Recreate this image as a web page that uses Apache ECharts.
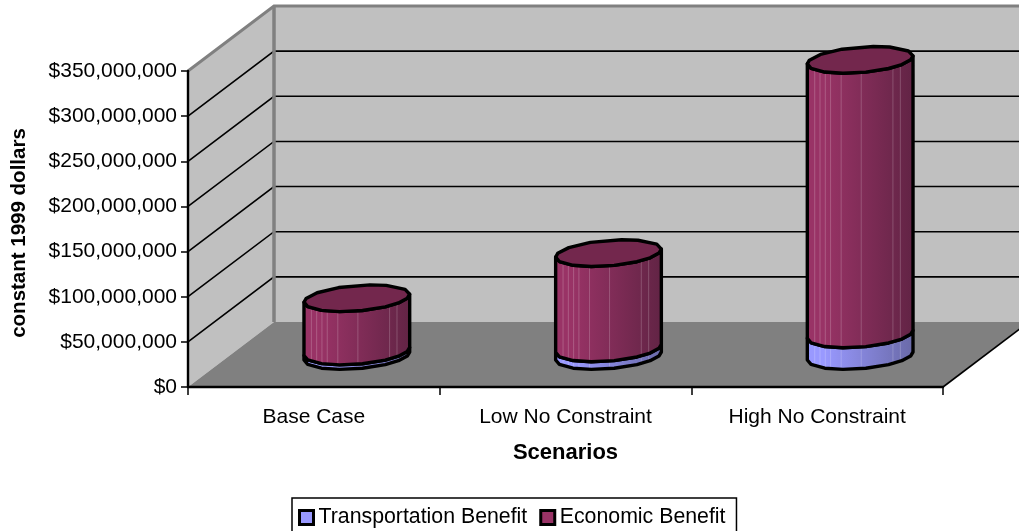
<!DOCTYPE html>
<html>
<head>
<meta charset="utf-8">
<title>Scenario benefits</title>
<style>
  html, body { margin: 0; padding: 0; background: #fff; overflow: hidden; }
  #chart { width: 1019px; height: 531px; }
</style>
<script src="https://cdn.jsdelivr.net/npm/echarts@6/dist/echarts.min.js"></script>
</head>
<body>
<div id="chart"></div>
<script>
// Benefit per scenario, constant 1999 dollars
const categories = ['Base Case', 'Low No Constraint', 'High No Constraint'];
const transportationBenefit = [5000000, 8500000, 24000000];
const economicBenefit = [59000000, 105500000, 304000000];
const gridValues = [50000000, 100000000, 150000000, 200000000, 250000000, 300000000, 350000000];
const axisMax = 350000000;
const axisStep = 50000000;

// Oblique projection of the 3D box
const DEPTH_X = 86, DEPTH_Y = -65;
const COL_DX = 43, COL_DY = -31;
const COL_WIDTH = 0.42, ELL_A = 12.8, ELL_B = 4;

const FONT = '"Liberation Sans", Arial, sans-serif';
const LABEL_SIZE = 21;

// Facet seams on the curved side, as fractions of the column width
const seams = [0.12, 0.19, 0.49, 0.68, 0.78, 0.83, 0.88, 0.93];
// Angles of the faceted outline, deliberately uneven
const facetAngles = [0, 0.42, 0.98, 1.32, 1.92, 2.42, 2.86, 3.14159,
                     3.52, 3.98, 4.38, 4.82, 5.28, 5.62, 5.98];

const shades = {
  transportation: { left: '#9999ff', right: '#6a6aa8', top: '#7373bf' },
  economic: { left: '#993366', right: '#622445', top: '#73274d' }
};

function gradient(s) {
  return {
    type: 'linear', x: 0, y: 0, x2: 1, y2: 0,
    colorStops: [
      { offset: 0, color: s.left },
      { offset: 0.15, color: s.left },
      { offset: 1, color: s.right }
    ]
  };
}

function ringPoint(c, rx, t) {
  return [c[0] + rx * Math.cos(t), c[1] - (ELL_A * Math.sin(t) + ELL_B * Math.cos(t))];
}

function frontArc(c, rx) {
  const pts = facetAngles.filter(t => t >= Math.PI - 1e-3).map(t => ringPoint(c, rx, t));
  pts.push(ringPoint(c, rx, Math.PI * 2));
  return pts;
}

function renderColumn(shade, withTop) {
  return function (params, api) {
    const cat = api.value(0);
    const low = api.coord([cat, api.value(1)]);
    const high = api.coord([cat, api.value(2)]);
    const rx = api.size([1, 0])[0] * COL_WIDTH / 2;
    const cLow = [low[0] + COL_DX, low[1] + COL_DY];
    const cHigh = [high[0] + COL_DX, high[1] + COL_DY];
    const outline = frontArc(cLow, rx).concat(frontArc(cHigh, rx).reverse());
    const children = [{
      type: 'polygon', shape: { points: outline },
      style: { fill: gradient(shade), stroke: null }
    }];
    seams.forEach(f => {
      const t = Math.PI * 2 - Math.acos(1 - 2 * f);
      const a = ringPoint(cLow, rx, t), b = ringPoint(cHigh, rx, t);
      children.push({
        type: 'line', shape: { x1: a[0], y1: a[1], x2: b[0], y2: b[1] },
        style: { stroke: 'rgba(255,255,255,0.2)', lineWidth: 1 }
      });
    });
    children.push({
      type: 'polygon', shape: { points: outline },
      style: { fill: null, stroke: '#000', lineWidth: 3.4, lineJoin: 'round' }
    });
    if (withTop) {
      children.push({
        type: 'polygon',
        shape: { points: facetAngles.map(t => ringPoint(cHigh, rx, t)) },
        style: { fill: shade.top, stroke: '#000', lineWidth: 3.4, lineJoin: 'round' }
      });
    }
    return { type: 'group', children };
  };
}

// Side wall, back wall, floor and gridlines of the 3D box
function renderBox(params, api) {
  const o = api.coord([0, 0]);
  const band = api.size([1, 0])[0];
  const x0 = o[0] - band / 2;
  const x1 = x0 + band * categories.length;
  const y0 = o[1];
  const yTop = api.coord([0, axisMax])[1];
  const kids = [];
  kids.push({ type: 'rect',
    shape: { x: x0 + DEPTH_X, y: yTop + DEPTH_Y, width: x1 - x0, height: y0 - yTop },
    style: { fill: '#c0c0c0' } });
  kids.push({ type: 'polygon',
    shape: { points: [[x0, y0], [x0 + DEPTH_X, y0 + DEPTH_Y], [x0 + DEPTH_X, yTop + DEPTH_Y], [x0, yTop]] },
    style: { fill: '#c0c0c0' } });
  kids.push({ type: 'polygon',
    shape: { points: [[x0, y0], [x1, y0], [x1 + DEPTH_X, y0 + DEPTH_Y], [x0 + DEPTH_X, y0 + DEPTH_Y]] },
    style: { fill: '#808080' } });
  gridValues.forEach(v => {
    const y = api.coord([0, v])[1];
    if (v < axisMax) {
      kids.push({ type: 'polyline',
        shape: { points: [[x0, y], [x0 + DEPTH_X, y + DEPTH_Y], [x1 + DEPTH_X, y + DEPTH_Y]] },
        style: { fill: null, stroke: '#000', lineWidth: 1.6 } });
    }
  });
  kids.push({ type: 'polyline',
    shape: { points: [[x0, yTop], [x0 + DEPTH_X, yTop + DEPTH_Y], [x1 + DEPTH_X, yTop + DEPTH_Y]] },
    style: { fill: null, stroke: '#808080', lineWidth: 3 } });
  kids.push({ type: 'line',
    shape: { x1: x0 + DEPTH_X, y1: yTop + DEPTH_Y, x2: x0 + DEPTH_X, y2: y0 + DEPTH_Y },
    style: { stroke: '#808080', lineWidth: 3.5 } });
  kids.push({ type: 'line',
    shape: { x1: x1, y1: y0, x2: x1 + DEPTH_X, y2: y0 + DEPTH_Y },
    style: { stroke: '#000', lineWidth: 1.6 } });
  return { type: 'group', children: kids };
}

const transportRows = categories.map((_, i) => [i, 0, transportationBenefit[i]]);
const economicRows = categories.map((_, i) => [
  i, transportationBenefit[i], transportationBenefit[i] + economicBenefit[i]
]);

const chart = echarts.init(document.getElementById('chart'));
chart.setOption({
  animation: false,
  backgroundColor: '#fff',
  grid: { left: 188, top: 71, width: 755, height: 316, containLabel: false, outerBoundsMode: 'none' },
  legend: {
    left: 292, top: 498, orient: 'horizontal', selectedMode: false,
    padding: [9, 11, 10, 6], itemGap: 12, itemWidth: 14, itemHeight: 14,
    backgroundColor: '#fff', borderColor: '#000', borderWidth: 1.5, borderRadius: 0,
    textStyle: { color: '#000', fontFamily: FONT, fontSize: 21.3 },
    data: [
      { name: 'Transportation Benefit', icon: 'rect',
        itemStyle: { color: shades.transportation.left, borderColor: '#000', borderWidth: 3 } },
      { name: 'Economic Benefit', icon: 'rect',
        itemStyle: { color: shades.economic.left, borderColor: '#000', borderWidth: 3 } }
    ]
  },
  xAxis: {
    type: 'category', data: categories, z: 6,
    name: 'Scenarios', nameLocation: 'middle', nameGap: 55,
    nameTextStyle: { color: '#000', fontFamily: FONT, fontWeight: 'bold', fontSize: 22 },
    axisLine: { show: true, lineStyle: { color: '#000', width: 2.4 } },
    axisTick: { show: true, alignWithLabel: false, length: 8, lineStyle: { color: '#000', width: 1.5 } },
    axisLabel: { color: '#000', fontFamily: FONT, fontSize: LABEL_SIZE, margin: 20, interval: 0 },
    splitLine: { show: false }
  },
  yAxis: {
    type: 'value', min: 0, max: axisMax, interval: axisStep, z: 6,
    name: 'constant 1999 dollars', nameLocation: 'middle', nameRotate: 90, nameGap: 158,
    nameTextStyle: { color: '#000', fontFamily: FONT, fontWeight: 'bold', fontSize: 20.5, padding: [0, 8, 0, 0] },
    axisLine: { show: true, lineStyle: { color: '#000', width: 2.4 } },
    axisTick: { show: true, length: 7, lineStyle: { color: '#000', width: 1.5 } },
    axisLabel: {
      color: '#000', fontFamily: FONT, fontSize: LABEL_SIZE, margin: 11,
      formatter: v => '$' + v.toLocaleString('en-US')
    },
    splitLine: { show: false }
  },
  series: [
    { name: 'box', type: 'custom', z: 1, silent: true, clip: false,
      renderItem: renderBox, data: [[0, 0]], encode: { x: 0, y: 1 } },
    { name: 'Transportation Benefit', type: 'custom', z: 3, clip: false,
      itemStyle: { color: shades.transportation.left },
      renderItem: renderColumn(shades.transportation, false),
      data: transportRows, encode: { x: 0, y: [1, 2] } },
    { name: 'Economic Benefit', type: 'custom', z: 4, clip: false,
      itemStyle: { color: shades.economic.left },
      renderItem: renderColumn(shades.economic, true),
      data: economicRows, encode: { x: 0, y: [1, 2] } }
  ]
});
</script>
</body>
</html>
